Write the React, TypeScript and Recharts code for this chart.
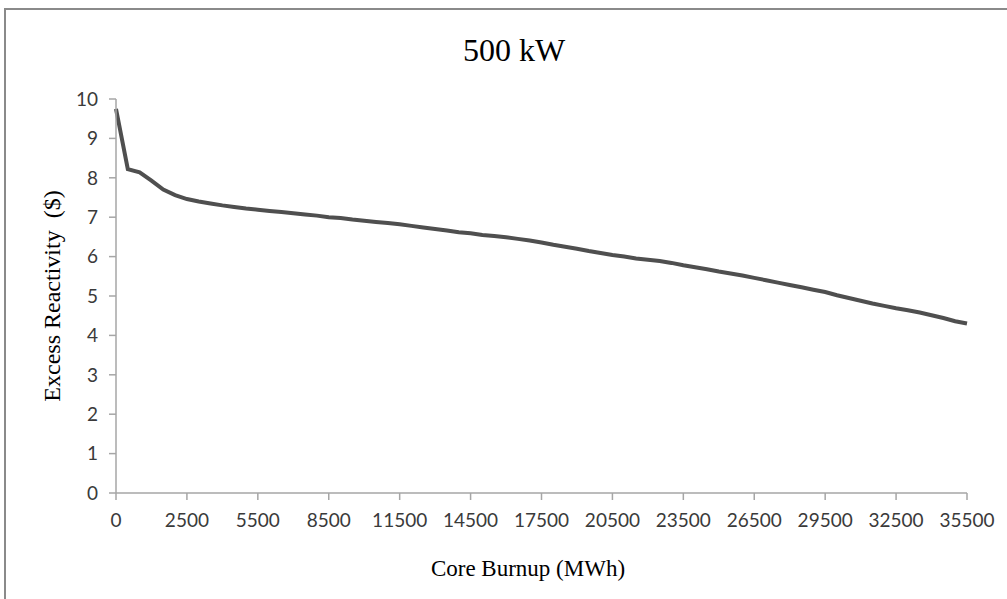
import React from 'react';
import { LineChart, Line, XAxis, YAxis } from 'recharts';

// category labels: 0, 100, then every 500 MWh up to 35500
const burnup = [
    '0', '100', '500', '1000', '1500', '2000', '2500', '3000', '3500', '4000',
    '4500', '5000', '5500', '6000', '6500', '7000', '7500', '8000', '8500', '9000',
    '9500', '10000', '10500', '11000', '11500', '12000', '12500', '13000', '13500', '14000',
    '14500', '15000', '15500', '16000', '16500', '17000', '17500', '18000', '18500', '19000',
    '19500', '20000', '20500', '21000', '21500', '22000', '22500', '23000', '23500', '24000',
    '24500', '25000', '25500', '26000', '26500', '27000', '27500', '28000', '28500', '29000',
    '29500', '30000', '30500', '31000', '31500', '32000', '32500', '33000', '33500', '34000',
    '34500', '35000', '35500'
];

const reactivity = [
    9.75, 8.22, 8.14, 7.93, 7.70, 7.56, 7.46, 7.40, 7.35, 7.30,
    7.26, 7.22, 7.19, 7.16, 7.13, 7.10, 7.07, 7.04, 7.00, 6.98,
    6.94, 6.91, 6.88, 6.85, 6.82, 6.78, 6.74, 6.70, 6.66, 6.62,
    6.59, 6.55, 6.52, 6.49, 6.45, 6.41, 6.36, 6.30, 6.25, 6.20,
    6.14, 6.09, 6.04, 6.00, 5.95, 5.92, 5.89, 5.84, 5.78, 5.73,
    5.68, 5.62, 5.57, 5.52, 5.46, 5.40, 5.34, 5.28, 5.22, 5.16,
    5.10, 5.02, 4.95, 4.88, 4.81, 4.75, 4.69, 4.64, 4.58, 4.51,
    4.44, 4.36, 4.30
];

const yTicks = [0, 1, 2, 3, 4, 5, 6, 7, 8, 9, 10];

const data = burnup.map((b, i) => ({ burnup: b, value: reactivity[i] }));

const serif = '"Liberation Serif", "Times New Roman", serif';
const tickStyle = { fill: '#3a3a3a', fontSize: 19, fontFamily: 'Lato, "Open Sans", sans-serif' };

export default function App() {
    return (
        <div style={{ position: 'absolute', left: 0, top: 0, width: 1007, height: 599, background: '#fff', overflow: 'hidden' }}>
            {/* frame, only left and top edges are visible */}
            <div style={{ position: 'absolute', left: 4, top: 8, width: 1100, height: 700, borderLeft: '2px solid #8a8a8a', borderTop: '2px solid #8a8a8a' }} />

            <div style={{ position: 'absolute', left: 0, width: 1028, top: 32, textAlign: 'center', fontFamily: serif, fontSize: 32, color: '#000' }}>
                500 kW
            </div>

            <div style={{
                position: 'absolute', left: 52, top: 296, transform: 'translate(-50%, -50%) rotate(-90deg)',
                whiteSpace: 'nowrap', fontFamily: serif, fontSize: 24, color: '#000'
            }}>
                Excess Reactivity&nbsp; ($)
            </div>

            <div style={{ position: 'absolute', left: 0, width: 1056, top: 556, textAlign: 'center', fontFamily: serif, fontSize: 23, color: '#000' }}>
                Core Burnup (MWh)
            </div>

            <div style={{ position: 'absolute', left: 0, top: 0 }}>
                <LineChart width={1007} height={599} data={data} margin={{ top: 99, right: 40, bottom: 76, left: 56 }}>
                    <XAxis
                        dataKey="burnup"
                        interval={5}
                        height={30}
                        tick={tickStyle}
                        tickSize={7}
                        tickMargin={14}
                        axisLine={{ stroke: '#a6a6a6', strokeWidth: 1.5 }}
                        tickLine={{ stroke: '#a6a6a6', strokeWidth: 1.5 }}
                    />
                    <YAxis
                        domain={[0, 10]}
                        ticks={yTicks}
                        width={60}
                        tick={tickStyle}
                        tickSize={7}
                        tickMargin={11}
                        axisLine={{ stroke: '#a6a6a6', strokeWidth: 1.5 }}
                        tickLine={{ stroke: '#a6a6a6', strokeWidth: 1.5 }}
                    />
                    <Line
                        type="linear"
                        dataKey="value"
                        stroke="#4f4f4f"
                        strokeWidth={4}
                        dot={false}
                        isAnimationActive={false}
                    />
                </LineChart>
            </div>
        </div>
    );
}
